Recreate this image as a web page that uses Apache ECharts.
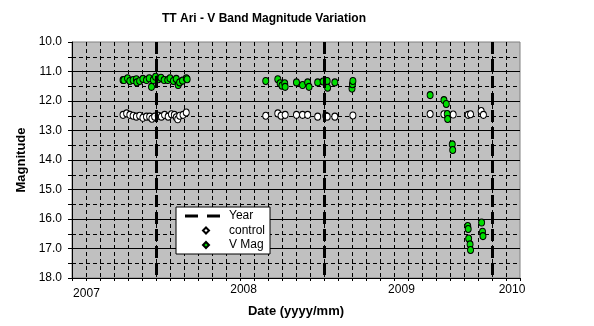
<!DOCTYPE html>
<html>
<head>
<meta charset="utf-8">
<script src="https://cdn.jsdelivr.net/npm/echarts@6/dist/echarts.min.js"></script>
<style>
  html, body { margin: 0; padding: 0; background: #fff; }
  #chart { width: 594px; height: 326px; }
</style>
</head>
<body>
<div id="chart"></div>
<script>
// TT Ari V-band photometry with a comparison ("control") star.
const vmagDates = [
  '2007-10-21','2007-10-23','2007-10-31','2007-11-05','2007-11-12','2007-11-19','2007-11-20',
  '2007-11-26','2007-12-03','2007-12-11','2007-12-17','2007-12-22','2007-12-26','2007-12-31',
  '2008-01-06','2008-01-12','2008-01-19','2008-01-27','2008-02-01','2008-02-08','2008-02-14',
  '2008-02-18','2008-02-21','2008-02-27','2008-03-06','2008-03-08',
  '2008-08-27','2008-09-22','2008-09-27','2008-10-01','2008-10-07','2008-10-08','2008-11-02',
  '2008-11-15','2008-11-26','2008-11-29','2008-12-18','2008-12-30','2009-01-08','2009-01-09',
  '2009-01-25','2009-03-01','2009-03-02','2009-03-03',
  '2009-08-19','2009-09-18','2009-09-23','2009-09-25','2009-09-26','2009-10-06','2009-10-07',
  '2009-11-09','2009-11-10','2009-11-11','2009-11-14','2009-11-15','2009-12-09','2009-12-11',
  '2009-12-12'
];
const vmagValues = [
  11.29, 11.29, 11.23, 11.32, 11.29, 11.26, 11.37,
  11.32, 11.25, 11.29, 11.23, 11.52, 11.29, 11.18,
  11.26, 11.21, 11.29, 11.29, 11.23, 11.32, 11.25,
  11.46, 11.37, 11.31, 11.23, 11.26,
  11.32, 11.26, 11.40, 11.48, 11.40, 11.52, 11.37,
  11.46, 11.37, 11.52, 11.37, 11.34, 11.32, 11.55,
  11.37, 11.58, 11.43, 11.32,
  11.80, 11.97, 12.10, 12.44, 12.61, 13.47, 13.66,
  16.24, 16.34, 16.66, 16.86, 17.05, 16.12, 16.43,
  16.58
];

const controlDates = [
  '2007-10-21','2007-10-29','2007-11-05','2007-11-12','2007-11-19','2007-11-26','2007-12-03',
  '2007-12-11','2007-12-18','2007-12-23','2007-12-29','2008-01-06','2008-01-13','2008-01-20',
  '2008-01-28','2008-02-04','2008-02-10','2008-02-14','2008-02-17','2008-02-21','2008-02-28',
  '2008-03-06',
  '2008-08-27','2008-09-22','2008-09-29','2008-10-08','2008-11-02','2008-11-15','2008-11-26',
  '2008-12-18','2009-01-05','2009-01-08','2009-01-25','2009-03-03',
  '2009-08-19','2009-09-18','2009-10-08','2009-11-10','2009-11-15','2009-12-08','2009-12-13'
];
const controlValues = [
  12.47, 12.42, 12.47, 12.50, 12.53, 12.50, 12.57,
  12.53, 12.53, 12.60, 12.53, 12.50, 12.53, 12.47,
  12.53, 12.45, 12.47, 12.55, 12.62, 12.50, 12.47,
  12.39,
  12.50, 12.42, 12.50, 12.47, 12.47, 12.47, 12.47,
  12.53, 12.50, 12.53, 12.53, 12.49,
  12.44, 12.45, 12.46, 12.47, 12.45, 12.34, 12.47
];

// Year boundaries (dashed "Year" markers) and the date axis extent
const yearBoundaries = ['2008-01-01', '2009-01-01', '2010-01-01'];
const axisStart = '2007-07-01';
const axisEnd = '2010-03-01';

// Year captions under the date axis and where they sit
const yearLabels = ['2007', '2008', '2009', '2010'];
const yearLabelDates = ['2007-08-02', '2008-07-09', '2009-06-17', '2010-02-13'];

// Magnitude axis
const magMin = 10, magMax = 18, magStep = 1;

// Convert an ISO date into fractional months counted from January 2007
function toMonth(s) {
  const [y, m, d] = s.split('-').map(Number);
  const daysInMonth = new Date(y, m, 0).getDate();
  return (y - 2007) * 12 + (m - 1) + (d - 1) / daysInMonth;
}

const FONT = '"Liberation Sans", Arial, Helvetica, sans-serif';
const labelPositions = yearLabelDates.map(toMonth);

function yearCaption(v) {
  let best = 0;
  labelPositions.forEach((p, i) => {
    if (Math.abs(p - v) < Math.abs(labelPositions[best] - v)) best = i;
  });
  return best === 0 ? '{lo|' + yearLabels[best] + '}' : yearLabels[best];
}

// Legend glyphs: invisible corner points fix the icon box so the shapes keep their size
const yearIcon = 'path://M0,0L0,0ZM35,8L35,8ZM0,2.5h13v3h-13zM22,2.5h13v3h-13z';
const diamondIcon = 'path://M0,0L0,0ZM35,8L35,8ZM21,1L24,4L21,7L18,4Z';

const chart = echarts.init(document.getElementById('chart'), null, { renderer: 'canvas' });

chart.setOption({
  animation: false,
  backgroundColor: '#ffffff',
  title: {
    text: 'TT Ari - V Band Magnitude Variation',
    left: 162,
    top: 13,
    padding: 0,
    textStyle: { fontFamily: FONT, fontSize: 12, fontWeight: 'bold', color: '#000' }
  },
  grid: {
    left: 72, right: 74, top: 42, bottom: 48,
    outerBoundsMode: 'none',
    show: true,
    backgroundColor: '#c0c0c0',
    borderColor: '#808080',
    borderWidth: 1
  },
  legend: {
    orient: 'vertical',
    left: 176,
    top: 207,
    backgroundColor: '#ffffff',
    borderColor: '#000000',
    borderWidth: 1,
    borderRadius: 0,
    padding: [3, 5, 3, 8],
    itemGap: 2.5,
    itemWidth: 35,
    itemHeight: 8,
    textStyle: { fontFamily: FONT, fontSize: 12, color: '#000', padding: [0, 0, 0, 4] },
    data: [
      { name: 'Year', icon: yearIcon, itemStyle: { color: '#000', borderWidth: 0 } },
      { name: 'control', icon: diamondIcon },
      { name: 'V Mag', icon: diamondIcon }
    ]
  },
  xAxis: {
    type: 'value',
    min: toMonth(axisStart),
    max: toMonth(axisEnd),
    interval: 1,
    name: 'Date (yyyy/mm)',
    nameLocation: 'middle',
    nameGap: 26,
    nameTextStyle: { fontFamily: FONT, fontSize: 13, fontWeight: 'bold', color: '#000' },
    axisLine: { show: true, onZero: false, lineStyle: { color: '#000', width: 1 } },
    axisTick: { show: true, length: 3, lineStyle: { color: '#000', width: 1 } },
    axisLabel: {
      customValues: labelPositions,
      formatter: yearCaption,
      margin: 6,
      color: '#000',
      fontFamily: FONT,
      fontSize: 12,
      rich: { lo: { fontFamily: FONT, fontSize: 12, color: '#000', padding: [4, 0, 0, 0] } }
    },
    splitLine: {
      show: true, showMinLine: false, showMaxLine: false,
      lineStyle: { color: '#000', width: 1, type: [4, 3] }
    }
  },
  yAxis: {
    type: 'value',
    inverse: true,
    min: magMin,
    max: magMax,
    interval: magStep,
    name: 'Magnitude',
    nameLocation: 'middle',
    nameGap: 44,
    nameRotate: 90,
    nameTextStyle: { fontFamily: FONT, fontSize: 13, fontWeight: 'bold', color: '#000' },
    axisLine: { show: true, lineStyle: { color: '#000', width: 1 } },
    axisTick: { show: true, length: 4, lineStyle: { color: '#000', width: 1 } },
    minorTick: { show: true, splitNumber: 2, length: 4, lineStyle: { color: '#000', width: 1 } },
    axisLabel: {
      formatter: v => v.toFixed(1),
      margin: 10,
      color: '#000',
      fontFamily: FONT,
      fontSize: 12
    },
    splitLine: { show: true, showMinLine: false, lineStyle: { color: '#000', width: 1 } },
    minorSplitLine: { show: true, lineStyle: { color: '#000', width: 1, type: [4, 3] } }
  },
  series: [
    {
      name: 'Year',
      type: 'line',
      data: [],
      color: '#000',
      itemStyle: { color: '#000' },
      lineStyle: { color: '#000' },
      markLine: {
        silent: true,
        symbol: ['none', 'none'],
        label: { show: false },
        emphasis: { disabled: true },
        lineStyle: { color: '#000', width: 3, type: [12, 5] },
        data: yearBoundaries.map(d => ({ xAxis: toMonth(d) }))
      }
    },
    {
      name: 'control',
      type: 'scatter',
      symbol: 'circle',
      symbolSize: [6, 7],
      itemStyle: { color: '#ffffff', borderColor: '#000', borderWidth: 1, opacity: 1 },
      emphasis: { disabled: true },
      data: controlDates.map((d, i) => [toMonth(d), controlValues[i]])
    },
    {
      name: 'V Mag',
      type: 'scatter',
      symbol: 'circle',
      symbolSize: [6, 7],
      itemStyle: { color: '#00dd00', borderColor: '#000', borderWidth: 1, opacity: 1 },
      emphasis: { disabled: true },
      data: vmagDates.map((d, i) => [toMonth(d), vmagValues[i]])
    }
  ]
});
</script>
</body>
</html>
